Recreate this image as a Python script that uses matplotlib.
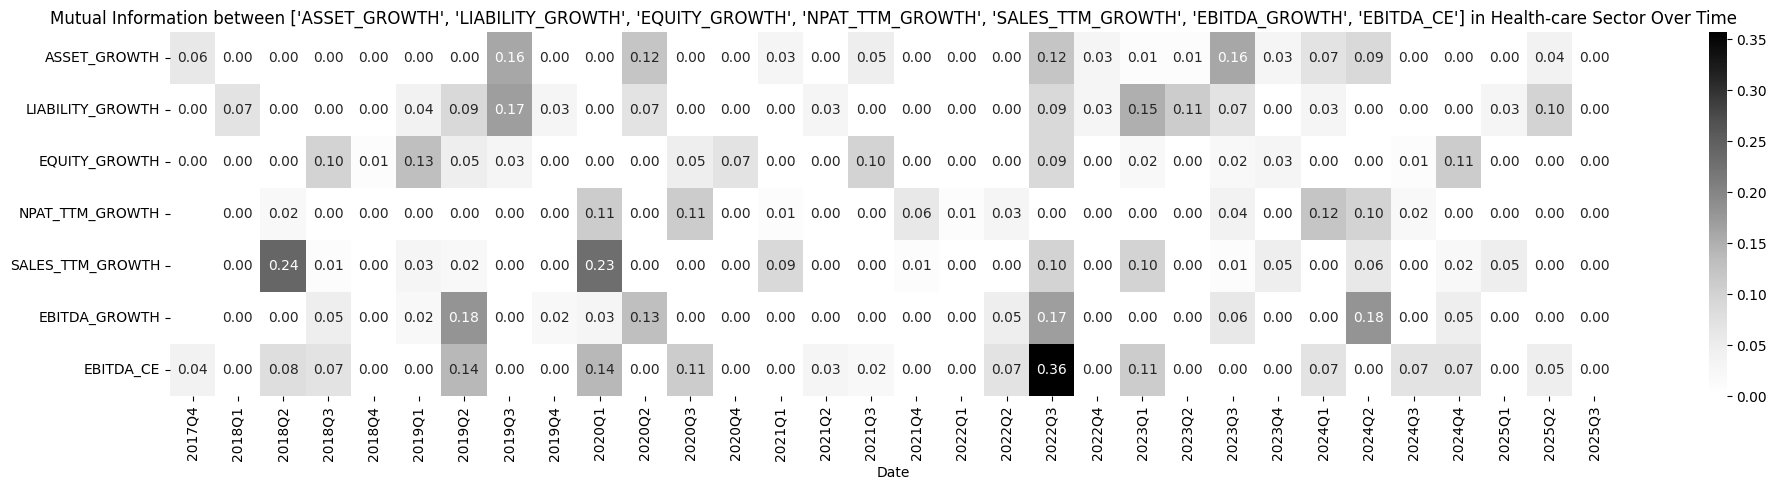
import matplotlib
matplotlib.use("Agg")
import matplotlib.pyplot as plt
import numpy as np
import pandas as pd
import seaborn as sns

nan = np.nan

metrics = ["ASSET_GROWTH", "LIABILITY_GROWTH", "EQUITY_GROWTH", "NPAT_TTM_GROWTH",
           "SALES_TTM_GROWTH", "EBITDA_GROWTH", "EBITDA_CE"]

quarters = ["2017Q4"] + [f"{y}Q{q}" for y in range(2018, 2025) for q in range(1, 5)] \
    + ["2025Q1", "2025Q2", "2025Q3"]

asset_growth = [0.06, 0.00, 0.00, 0.00, 0.00, 0.00, 0.00, 0.16, 0.00, 0.00, 0.12, 0.00, 0.00, 0.03, 0.00, 0.05,
                0.00, 0.00, 0.00, 0.12, 0.03, 0.01, 0.01, 0.16, 0.03, 0.07, 0.09, 0.00, 0.00, 0.00, 0.04, 0.00]
liability_growth = [0.00, 0.07, 0.00, 0.00, 0.00, 0.04, 0.09, 0.17, 0.03, 0.00, 0.07, 0.00, 0.00, 0.00, 0.03, 0.00,
                    0.00, 0.00, 0.00, 0.09, 0.03, 0.15, 0.11, 0.07, 0.00, 0.03, 0.00, 0.00, 0.00, 0.03, 0.10, 0.00]
equity_growth = [0.00, 0.00, 0.00, 0.10, 0.01, 0.13, 0.05, 0.03, 0.00, 0.00, 0.00, 0.05, 0.07, 0.00, 0.00, 0.10,
                 0.00, 0.00, 0.00, 0.09, 0.00, 0.02, 0.00, 0.02, 0.03, 0.00, 0.00, 0.01, 0.11, 0.00, 0.00, 0.00]
npat_ttm_growth = [nan, 0.00, 0.02, 0.00, 0.00, 0.00, 0.00, 0.00, 0.00, 0.11, 0.00, 0.11, 0.00, 0.01, 0.00, 0.00,
                   0.06, 0.01, 0.03, 0.00, 0.00, 0.00, 0.00, 0.04, 0.00, 0.12, 0.10, 0.02, 0.00, 0.00, 0.00, 0.00]
sales_ttm_growth = [nan, 0.00, 0.24, 0.01, 0.00, 0.03, 0.02, 0.00, 0.00, 0.23, 0.00, 0.00, 0.00, 0.09, 0.00, 0.00,
                    0.01, 0.00, 0.00, 0.10, 0.00, 0.10, 0.00, 0.01, 0.05, 0.00, 0.06, 0.00, 0.02, 0.05, 0.00, 0.00]
ebitda_growth = [nan, 0.00, 0.00, 0.05, 0.00, 0.02, 0.18, 0.00, 0.02, 0.03, 0.13, 0.00, 0.00, 0.00, 0.00, 0.00,
                 0.00, 0.00, 0.05, 0.17, 0.00, 0.00, 0.00, 0.06, 0.00, 0.00, 0.18, 0.00, 0.05, 0.00, 0.00, 0.00]
ebitda_ce = [0.04, 0.00, 0.08, 0.07, 0.00, 0.00, 0.14, 0.00, 0.00, 0.14, 0.00, 0.11, 0.00, 0.00, 0.03, 0.02,
             0.00, 0.00, 0.07, 0.357, 0.00, 0.11, 0.00, 0.00, 0.00, 0.07, 0.00, 0.07, 0.07, 0.00, 0.05, 0.00]

df = pd.DataFrame([asset_growth, liability_growth, equity_growth, npat_ttm_growth,
                   sales_ttm_growth, ebitda_growth, ebitda_ce],
                  index=metrics, columns=quarters)
df.columns.name = "Date"

fig = plt.figure(figsize=(17.77, 4.9), dpi=100)
ax = fig.add_axes([0.0957, 0.1918, 0.8143, 0.7429])
cax = fig.add_axes([0.9617, 0.1918, 0.0101, 0.7429])
sns.heatmap(df, cmap="Greys", annot=True, fmt=".2f", ax=ax, cbar_ax=cax)
ax.set_title(f"Mutual Information between {metrics} in Health-care Sector Over Time")
ax.set_xlabel("Date")
ax.set_ylabel("")
plt.savefig("out.png", dpi=100)
